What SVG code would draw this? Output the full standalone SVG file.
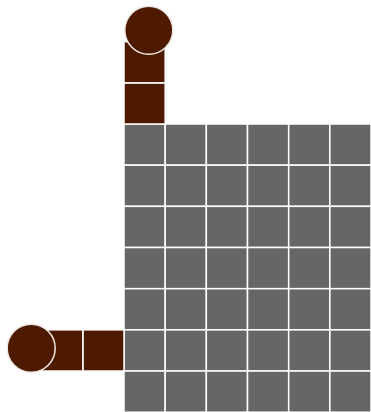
<svg xmlns="http://www.w3.org/2000/svg" width="371" height="412" viewBox="0 0 371 412">
<style>
.g{fill:#666666;stroke:#ffffff;stroke-width:1.5}
.b{fill:#4d1a00;stroke:#ffffff;stroke-width:1.5}
.h{fill:#4d1a00;stroke:#f0e8e4;stroke-width:1.5}
</style>
<rect width="371" height="412" fill="#ffffff"/>
<g id="grid">
<defs><rect id="c" width="41.17" height="41.17" class="g"/></defs>
<g id="row0"><use href="#c" x="124" y="124"/><use href="#c" x="165.17" y="124"/><use href="#c" x="206.34" y="124"/><use href="#c" x="247.51" y="124"/><use href="#c" x="288.68" y="124"/><use href="#c" x="329.85" y="124"/></g>
<g id="row1"><use href="#c" x="124" y="165.17"/><use href="#c" x="165.17" y="165.17"/><use href="#c" x="206.34" y="165.17"/><use href="#c" x="247.51" y="165.17"/><use href="#c" x="288.68" y="165.17"/><use href="#c" x="329.85" y="165.17"/></g>
<g id="row2"><use href="#c" x="124" y="206.34"/><use href="#c" x="165.17" y="206.34"/><use href="#c" x="206.34" y="206.34"/><use href="#c" x="247.51" y="206.34"/><use href="#c" x="288.68" y="206.34"/><use href="#c" x="329.85" y="206.34"/></g>
<g id="row3"><use href="#c" x="124" y="247.51"/><use href="#c" x="165.17" y="247.51"/><use href="#c" x="206.34" y="247.51"/><use href="#c" x="247.51" y="247.51"/><use href="#c" x="288.68" y="247.51"/><use href="#c" x="329.85" y="247.51"/></g>
<g id="row4"><use href="#c" x="124" y="288.68"/><use href="#c" x="165.17" y="288.68"/><use href="#c" x="206.34" y="288.68"/><use href="#c" x="247.51" y="288.68"/><use href="#c" x="288.68" y="288.68"/><use href="#c" x="329.85" y="288.68"/></g>
<g id="row5"><use href="#c" x="124" y="329.85"/><use href="#c" x="165.17" y="329.85"/><use href="#c" x="206.34" y="329.85"/><use href="#c" x="247.51" y="329.85"/><use href="#c" x="288.68" y="329.85"/><use href="#c" x="329.85" y="329.85"/></g>
<g id="row6"><use href="#c" x="124" y="371.02"/><use href="#c" x="165.17" y="371.02"/><use href="#c" x="206.34" y="371.02"/><use href="#c" x="247.51" y="371.02"/><use href="#c" x="288.68" y="371.02"/><use href="#c" x="329.85" y="371.02"/></g>
</g>
<g id="top-chain">
<rect x="124" y="82.83" width="41.17" height="41.17" class="b"/>
<rect x="124" y="41.66" width="41.17" height="41.17" class="b"/>
<circle cx="148.8" cy="30.2" r="24" class="h"/>
</g>
<g id="left-chain">
<rect x="82.83" y="329.85" width="41.17" height="41.17" class="b"/>
<rect x="41.66" y="329.85" width="41.17" height="41.17" class="b"/>
<circle cx="31.2" cy="348.2" r="24" class="h"/>
</g>
</svg>
